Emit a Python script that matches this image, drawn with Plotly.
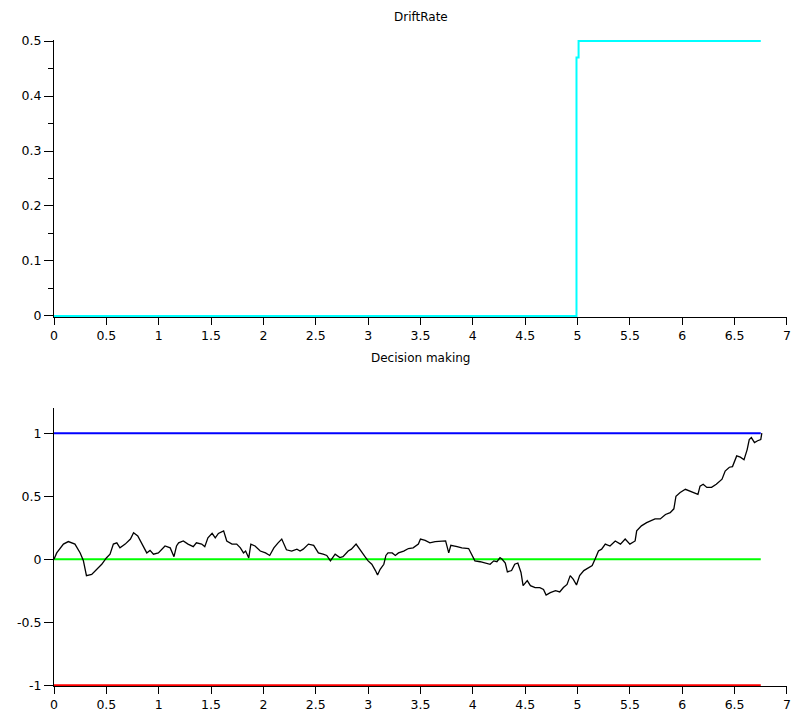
import plotly.graph_objects as go
from plotly.subplots import make_subplots

# ---- data ----
drift_t = [0, 4.99, 4.99, 5.01, 5.01, 6.75]
drift_v = [0, 0, 0.47, 0.47, 0.5, 0.5]

bound_t = [0, 6.75]
upper_v = [1, 1]
mid_v = [0, 0]
lower_v = [-1, -1]

walk_t = [0, 0.026, 0.09, 0.137, 0.2, 0.25, 0.28, 0.31, 0.36, 0.41, 0.456, 0.50, 0.535, 0.567, 0.60, 0.63,
          0.68, 0.73, 0.76, 0.80, 0.84, 0.886, 0.917, 0.95, 0.997, 1.06, 1.11, 1.146, 1.17, 1.19, 1.235,
          1.28, 1.33, 1.36, 1.41, 1.44, 1.47, 1.51, 1.54, 1.57, 1.62, 1.65, 1.70, 1.745, 1.78, 1.81, 1.83,
          1.86, 1.88, 1.92, 1.97, 2.02, 2.06, 2.10, 2.14, 2.175, 2.22, 2.27, 2.32, 2.35, 2.38, 2.43, 2.48,
          2.525, 2.57, 2.605, 2.64, 2.685, 2.73, 2.76, 2.81, 2.84, 2.885, 2.92, 2.97, 3.00, 3.035, 3.07,
          3.09, 3.115, 3.15, 3.17, 3.19, 3.23, 3.26, 3.29, 3.34, 3.385, 3.43, 3.48, 3.50, 3.545, 3.59,
          3.64, 3.70, 3.74, 3.77, 3.79, 3.85, 3.895, 3.96, 3.99, 4.02, 4.07, 4.12, 4.165, 4.20, 4.23,
          4.26, 4.28, 4.31, 4.33, 4.37, 4.40, 4.43, 4.46, 4.48, 4.52, 4.55, 4.595, 4.64, 4.675, 4.70,
          4.74, 4.79, 4.83, 4.865, 4.90, 4.93, 4.96, 4.99, 5.02, 5.06, 5.105, 5.14, 5.17, 5.20, 5.23,
          5.265, 5.31, 5.36, 5.41, 5.455, 5.50, 5.55, 5.565, 5.61, 5.66, 5.70, 5.74, 5.79, 5.84, 5.885,
          5.92, 5.94, 5.98, 6.03, 6.075, 6.11, 6.15, 6.17, 6.20, 6.235, 6.28, 6.325, 6.38, 6.41, 6.45,
          6.48, 6.52, 6.555, 6.59, 6.62, 6.64, 6.66, 6.69, 6.72, 6.75, 6.76]
walk_v = [0, 0.05, 0.12, 0.14, 0.12, 0.05, -0.01, -0.13, -0.12, -0.08, -0.04, 0.01, 0.04, 0.12, 0.13, 0.09,
          0.12, 0.16, 0.21, 0.185, 0.12, 0.05, 0.07, 0.04, 0.05, 0.105, 0.09, 0.02, 0.105, 0.13, 0.145,
          0.12, 0.10, 0.13, 0.12, 0.10, 0.17, 0.205, 0.17, 0.205, 0.225, 0.145, 0.12, 0.12, 0.09, 0.05, 0.065,
          0.01, 0.12, 0.105, 0.065, 0.05, 0.03, 0.09, 0.13, 0.16, 0.075, 0.065, 0.08, 0.065, 0.08, 0.12, 0.11,
          0.05, 0.04, 0.03, -0.013, 0.04, 0.013, 0.02, 0.065, 0.08, 0.12, 0.075, 0.02, -0.013, -0.04, -0.09,
          -0.125, -0.08, -0.04, 0.03, 0.05, 0.05, 0.03, 0.05, 0.065, 0.085, 0.09, 0.12, 0.16, 0.15, 0.13,
          0.14, 0.145, 0.145, 0.05, 0.11, 0.10, 0.09, 0.085, 0.03, -0.013, -0.02, -0.03, -0.04, -0.013, -0.02,
          0.013, 0.0, -0.03, -0.10, -0.09, -0.04, -0.03, -0.105, -0.21, -0.17, -0.21, -0.225, -0.225, -0.24, -0.285,
          -0.265, -0.25, -0.26, -0.225, -0.20, -0.13, -0.16, -0.205, -0.13, -0.09, -0.07, -0.05, 0.005, 0.065, 0.08,
          0.12, 0.105, 0.145, 0.12, 0.16, 0.12, 0.145, 0.225, 0.265, 0.29, 0.305, 0.32, 0.32, 0.355, 0.37,
          0.40, 0.50, 0.53, 0.555, 0.54, 0.53, 0.515, 0.58, 0.595, 0.57, 0.57, 0.595, 0.635, 0.70, 0.73,
          0.735, 0.82, 0.81, 0.79, 0.87, 0.95, 0.965, 0.925, 0.94, 0.95, 1.0]

x_ticks = [0, 0.5, 1, 1.5, 2, 2.5, 3, 3.5, 4, 4.5, 5, 5.5, 6, 6.5, 7]
top_y_ticks = [0, 0.1, 0.2, 0.3, 0.4, 0.5]
bot_y_ticks = [-1, -0.5, 0, 0.5, 1]

# ---- figure ----
W, H = 795, 714
ml, mr, mt, mb = 54, 8, 40, 28
ph = H - mt - mb
top_dom = [(686 - 317) / ph, 1.0]
bot_dom = [0.0, (686 - 408) / ph]

fig = make_subplots(rows=2, cols=1)

fig.add_trace(go.Scatter(x=drift_t, y=drift_v, mode="lines",
                         line=dict(color="#00FFFF", width=2)), row=1, col=1)
fig.add_trace(go.Scatter(x=bound_t, y=upper_v, mode="lines",
                         line=dict(color="#0000FF", width=2)), row=2, col=1)
fig.add_trace(go.Scatter(x=bound_t, y=mid_v, mode="lines",
                         line=dict(color="#00FF00", width=2)), row=2, col=1)
fig.add_trace(go.Scatter(x=bound_t, y=lower_v, mode="lines",
                         line=dict(color="#FF0000", width=2)), row=2, col=1)
fig.add_trace(go.Scatter(x=walk_t, y=walk_v, mode="lines",
                         line=dict(color="#000000", width=1.3)), row=2, col=1)

FAM = "DejaVu Sans, Arial, sans-serif"
font = dict(family=FAM, size=12.5, color="#000000")
tfont = dict(family=FAM, size=12, color="#000000")

xcommon = dict(range=[0, 7.0005], tickvals=x_ticks, ticktext=[f"{v:g}" for v in x_ticks],
               showgrid=False, zeroline=False, showline=True, linecolor="#000000",
               linewidth=1, ticks="outside", ticklen=7, tickcolor="#000000",
               tickfont=font, layer="below traces", ticklabeloverflow="allow",
               automargin=False)

fig.update_layout(
    width=W, height=H,
    margin=dict(l=ml, r=mr, t=mt, b=mb),
    paper_bgcolor="#FFFFFF", plot_bgcolor="#FFFFFF",
    showlegend=False,
    font=font,
    xaxis=dict(xcommon, domain=[0, 1], anchor="y"),
    xaxis2=dict(xcommon, domain=[0, 1], anchor="y2"),
    yaxis=dict(domain=top_dom, range=[-0.002, 0.502], tickvals=top_y_ticks,
               ticktext=[f"{v:g}" for v in top_y_ticks],
               showgrid=False, zeroline=False, showline=True, linecolor="#000000",
               ticks="outside", ticklen=9, tickcolor="#000000", tickfont=font,
               layer="below traces", automargin=False,
               minor=dict(dtick=0.05, tick0=0, ticks="outside", ticklen=5,
                          tickcolor="#000000", showgrid=False)),
    yaxis2=dict(domain=bot_dom, range=[-1.006, 1.2], tickvals=bot_y_ticks,
                ticktext=[f"{v:g}" for v in bot_y_ticks],
                showgrid=False, zeroline=False, showline=True, linecolor="#000000",
                ticks="outside", ticklen=9, tickcolor="#000000", tickfont=font,
                layer="below traces", automargin=False),
    annotations=[
        dict(text="DriftRate", x=0.5, xref="paper", y=17, yref="paper",
             showarrow=False, font=tfont),
        dict(text="Decision making", x=0.5, xref="paper", y=358, yref="paper",
             showarrow=False, font=tfont),
    ],
)

# convert title pixel y to paper coords
for a in fig.layout.annotations:
    py = a.y
    a.y = (H - mb - py) / ph
    a.yanchor = "middle"

fig.write_html("out.html", config={"displayModeBar": False},
               post_script="document.body.style.margin='0px';document.body.style.overflow='hidden';")
